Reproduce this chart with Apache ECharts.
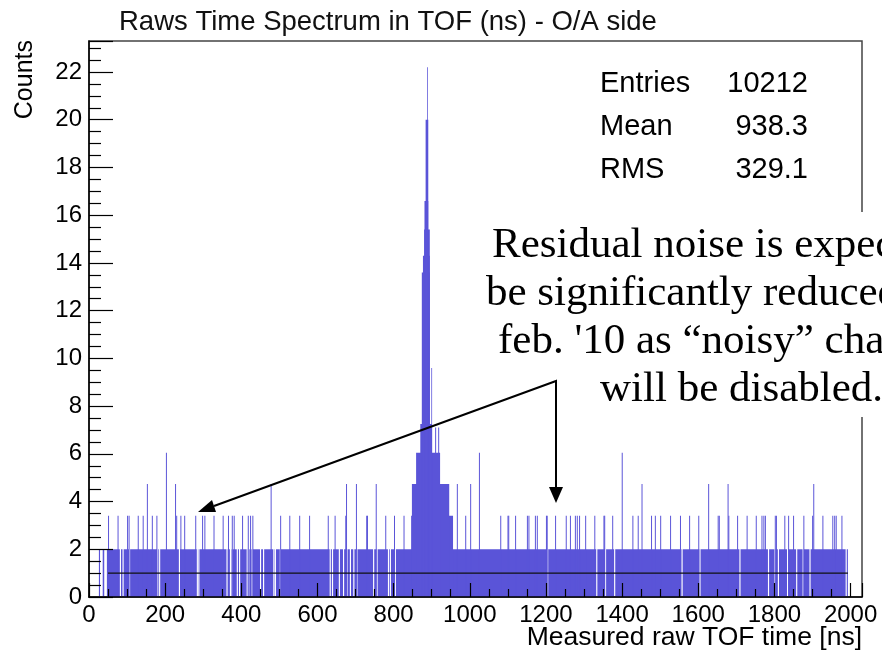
<!DOCTYPE html>
<html>
<head>
<meta charset="utf-8">
<title>Raws Time Spectrum in TOF</title>
<script src="https://cdn.jsdelivr.net/npm/echarts/dist/echarts.min.js"></script>
<style>
  html, body { margin: 0; padding: 0; background: #fff; }
  #main { width: 882px; height: 651px; }
</style>
</head>
<body>
<div id="main"></div>
<script>
const chart = echarts.init(document.getElementById('main'))

// histogram data (ns / counts)
const baseRange = [26, 1993]   // noise floor, level 2
const baseLevel = 2
const gaps = [
  [29, 36], [40, 47], [81, 84], [88, 91], [105, 108], [179, 182], [184, 187], [236, 239],
  [283, 286], [287, 290], [361, 364], [370, 373], [374, 377], [388, 391], [394, 397],
  [414, 417], [418, 421], [427, 430], [449, 452], [457, 460], [484, 487], [488, 491],
  [501, 504], [632, 635], [638, 641], [656, 659], [667, 670], [676, 679], [685, 688],
  [694, 697], [702, 705], [746, 749], [755, 758], [785, 788], [790, 793], [803, 806],
  [1203, 1206], [1332, 1335], [1355, 1358], [1379, 1382], [1556, 1559], [1603, 1606],
  [1708, 1711], [1783, 1786], [1800, 1803], [1809, 1812], [1833, 1836], [1857, 1860],
  [1874, 1877], [1892, 1895], [1987, 1990]
]
const spikes34 = [
  50, 75, 100, 104, 128, 141, 165, 177, 229, 240, 250, 279, 297, 303, 327, 351, 365, 375, 380,
  402, 417, 423, 429, 502, 526, 552, 578, 627, 645, 673, 728, 730, 778, 801, 826, 988,
  1080, 1099, 1101, 1119, 1150, 1154, 1171, 1176, 1200, 1202, 1224, 1252, 1263, 1276, 1281,
  1287, 1303, 1327, 1351, 1353, 1374, 1427, 1441, 1476, 1486, 1500, 1526, 1552, 1576, 1600,
  1651, 1654, 1679, 1702, 1727, 1751, 1766, 1771, 1775, 1801, 1804, 1826, 1836, 1849, 1876,
  1899, 1926, 1952, 1957, 1961, 1976
]
const spikes47 = [152, 226, 477, 675, 701, 753, 966, 1001, 1451, 1626, 1677, 1902]
const spikes60 = [202, 1024, 1399]
const spikes71 = [909, 917]
// peak around 890 ns, as nested steps: [from, to, counts]
const peakBins = [
  [846, 956, 3.4], [848, 946, 4.74], [859, 922, 6.04], [870, 901, 7.25],
  [874, 895, 13.6], [877, 895, 14.3], [880, 895, 15.4], [881, 891, 16.6],
  [884, 891, 20.0], [888, 890, 22.2], [899, 901, 9.6]
]
const meanLine = [[50, 1], [1993, 1]]

const xTicks = { min: 0, max: 2030, interval: 200 }
const yTicks = { min: 0, max: 23.3, interval: 2 }

const stats = [['Entries', '10212'], ['Mean', '938.3'], ['RMS', '329.1']]
const noteLines = [
  'Residual noise is expected to',
  'be significantly reduced after',
  'feb. \'10 as \u201cnoisy\u201d channels',
  'will be disabled.'
]

// build bins
const bins = []
let start = baseRange[0]
gaps.forEach(g => {
  if (g[0] > start) bins.push([start, g[0], baseLevel])
  start = g[1]
})
bins.push([start, baseRange[1], baseLevel])
const spikeW = 2.6
spikes34.forEach(x => bins.push([x, x + spikeW, 3.4]))
spikes47.forEach(x => bins.push([x, x + spikeW, 4.74]))
spikes60.forEach(x => bins.push([x, x + spikeW, 6.04]))
spikes71.forEach(x => bins.push([x, x + spikeW, 7.1]))
peakBins.forEach(b => bins.push(b))

const fillColor = '#5a54d8'
const font = '"Liberation Sans", Arial, sans-serif'
const serif = '"Liberation Serif", "Times New Roman", serif'

const option = {
  animation: false,
  backgroundColor: '#fff',
  title: {
    text: 'Raws Time Spectrum in TOF (ns) - O/A side',
    left: 114,
    top: 3,
    textStyle: { fontFamily: font, fontSize: 27.5, fontWeight: 'normal', color: '#111' }
  },
  grid: {
    left: 89, right: 20, top: 41, bottom: 54,
    show: true, borderColor: '#444', borderWidth: 1.5
  },
  xAxis: {
    type: 'value',
    min: xTicks.min, max: xTicks.max, interval: xTicks.interval,
    z: 10,
    splitLine: { show: false },
    axisLine: { lineStyle: { color: '#000', width: 1.5 } },
    axisTick: { inside: true, length: 14, lineStyle: { color: '#000', width: 1.2 } },
    minorTick: { show: true, splitNumber: 4, length: 8, lineStyle: { color: '#000', width: 1.2 } },
    axisLabel: {
      margin: 6, fontFamily: font, fontSize: 24, color: '#000',
      formatter: v => (v % 200 === 0 ? String(v) : '')
    }
  },
  yAxis: {
    type: 'value',
    min: yTicks.min, max: yTicks.max, interval: yTicks.interval,
    z: 10,
    splitLine: { show: false },
    axisLine: { show: true, lineStyle: { color: '#000', width: 1.5 } },
    axisTick: { show: true, inside: true, length: 24, lineStyle: { color: '#000', width: 1.2 } },
    minorTick: { show: true, splitNumber: 4, length: 12, lineStyle: { color: '#000', width: 1.2 } },
    axisLabel: {
      margin: 7, fontFamily: font, fontSize: 24, color: '#000',
      formatter: v => (v % 2 === 0 ? String(v) : '')
    }
  },
  series: [
    {
      name: 'TOF raw time',
      type: 'custom',
      encode: { x: [0, 1], y: 2 },
      data: bins,
      renderItem(params, api) {
        const p0 = api.coord([api.value(0), 0])
        const p1 = api.coord([api.value(1), api.value(2)])
        return {
          type: 'rect',
          shape: { x: p0[0], y: p1[1], width: p1[0] - p0[0], height: p0[1] - p1[1] },
          style: { fill: fillColor }
        }
      }
    },
    {
      type: 'line',
      data: meanLine,
      symbol: 'none',
      lineStyle: { color: '#111', width: 1.3 },
      z: 3
    }
  ],
  graphic: [
    {
      type: 'text', left: 13, top: 40, rotation: Math.PI / 2,
      style: { text: 'Counts', font: '25px ' + font, fill: '#000' }
    },
    {
      type: 'text', right: 20, top: 624,
      style: { text: 'Measured raw TOF time [ns]', font: '26.5px ' + font, fill: '#000' }
    },
    ...stats.map((s, i) => ({
      type: 'group',
      children: [
        { type: 'text', x: 600, y: 84 + i * 43, style: { text: s[0], font: '29px ' + font, fill: '#000', verticalAlign: 'middle' } },
        { type: 'text', x: 808, y: 84 + i * 43, style: { text: s[1], font: '29px ' + font, fill: '#000', align: 'right', verticalAlign: 'middle' } }
      ]
    })),
    // white note box over the frame
    { type: 'rect', z: 50, shape: { x: 485, y: 212, width: 400, height: 205 }, style: { fill: '#fff' } },
    ...noteLines.map((t, i) => ({
      type: 'text', z: 51,
      x: [492, 486, 498, 600][i],
      y: 246 + i * 48,
      style: { text: t, font: '43px ' + serif, fill: '#000', verticalAlign: 'middle' }
    })),
    // arrows
    {
      type: 'polyline', z: 52,
      shape: { points: [[214, 506], [556, 381], [556, 489]] },
      style: { stroke: '#000', lineWidth: 2, fill: null }
    },
    {
      type: 'polygon', z: 52,
      shape: { points: [[198, 512], [216, 512], [212, 500]] },
      style: { fill: '#000' }
    },
    {
      type: 'polygon', z: 52,
      shape: { points: [[556, 503], [549, 487], [563, 487]] },
      style: { fill: '#000' }
    }
  ]
}

chart.setOption(option)
</script>
</body>
</html>
